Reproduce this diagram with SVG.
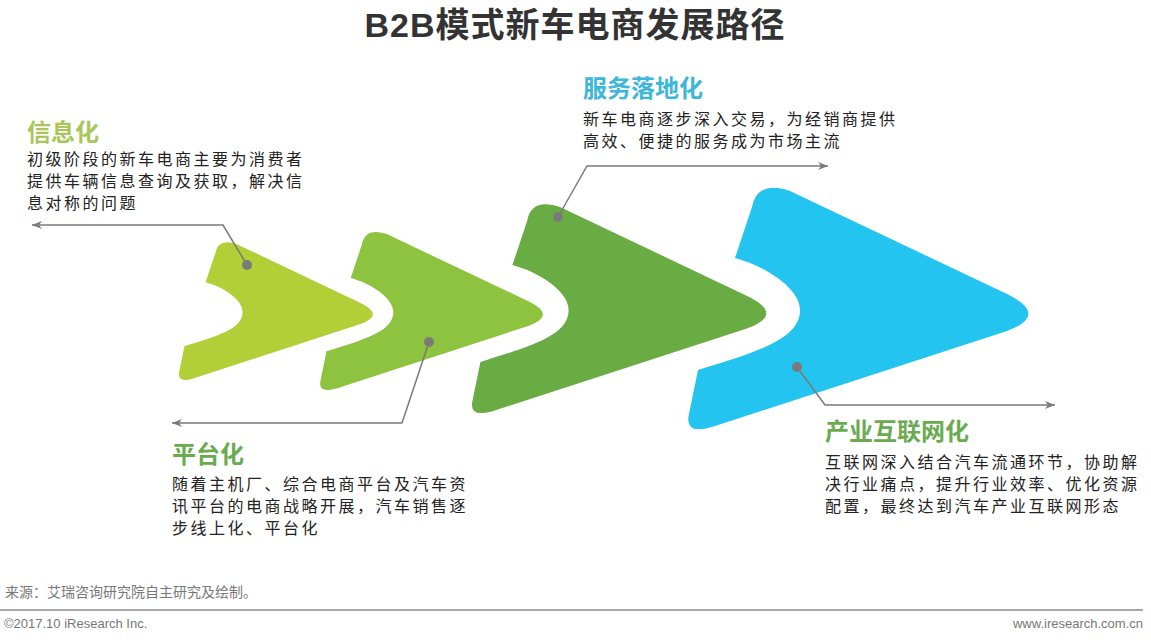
<svg xmlns="http://www.w3.org/2000/svg" width="1151" height="643" viewBox="0 0 1151 643">
  <style>
    .title{font-family:"Liberation Sans","Noto Sans CJK SC",sans-serif;font-weight:700;font-size:34px;fill:#333333;letter-spacing:1px}
    .head{font-family:"Noto Sans CJK SC",sans-serif;font-weight:700;font-size:24px}
    .body{font-family:"Noto Sans CJK SC",sans-serif;font-size:16px;fill:#222222;letter-spacing:2.5px}
    .foot{font-family:"Liberation Sans","Noto Sans CJK SC",sans-serif;font-size:13px;fill:#777777}
    .conn{fill:none;stroke:#7a7a7a;stroke-width:1.5}
    .dot{fill:#7a7a7a}
  </style>
  <defs>
    <path id="chev" d="M790,191 L1007,294 Q1050,315 1007,331 L712,427 Q684,435 689,414 L698,370 C755,352 800,340 800,310 C800,288 765,266 735,258 L752,207 Q757,180 790,191 Z"/>
    <marker id="arr" viewBox="0 0 10 10" refX="10" refY="5" markerWidth="10" markerHeight="10" markerUnits="userSpaceOnUse" orient="auto">
      <path d="M10,5 L0,1 L3,5 L0,9 Z" fill="#7a7a7a"/>
    </marker>
  </defs>

  <rect width="1151" height="643" fill="#ffffff"/>

  <text class="title" x="575" y="37" text-anchor="middle">B2B模式新车电商发展路径</text>

  <g id="stage1">
    <use href="#chev" fill="#b3cf37" transform="translate(372 312) scale(0.57) translate(-1027 -310)"/>
  </g>
  <g id="stage2">
    <use href="#chev" fill="#8dc33f" transform="translate(542 312) scale(0.655) translate(-1027 -310)"/>
  </g>
  <g id="stage3">
    <use href="#chev" fill="#69ac44" transform="translate(765 310) scale(0.865) translate(-1027 -310)"/>
  </g>
  <g id="stage4">
    <use href="#chev" fill="#23c4ef"/>
  </g>

  <g id="connectors">
    <polyline class="conn" points="247,265 223,225 32,225" marker-end="url(#arr)"/>
    <polyline class="conn" points="429,342 402,423 172,423" marker-end="url(#arr)"/>
    <polyline class="conn" points="558,217 587,166 828,166" marker-end="url(#arr)"/>
    <polyline class="conn" points="797,367 825,405 1055,405" marker-end="url(#arr)"/>
    <circle class="dot" cx="247" cy="265" r="5"/>
    <circle class="dot" cx="429" cy="342" r="5"/>
    <circle class="dot" cx="558" cy="217" r="5"/>
    <circle class="dot" cx="797" cy="367" r="5"/>
  </g>

  <g id="label1">
    <text class="head" x="27" y="141" fill="#a8c65a">信息化</text>
    <text class="body" x="27" y="165">初级阶段的新车电商主要为消费者</text>
    <text class="body" x="27" y="187">提供车辆信息查询及获取，解决信</text>
    <text class="body" x="27" y="209">息对称的问题</text>
  </g>
  <g id="label2">
    <text class="head" x="172" y="463" fill="#6aab4f">平台化</text>
    <text class="body" x="172" y="490">随着主机厂、综合电商平台及汽车资</text>
    <text class="body" x="172" y="512">讯平台的电商战略开展，汽车销售逐</text>
    <text class="body" x="172" y="534">步线上化、平台化</text>
  </g>
  <g id="label3">
    <text class="head" x="583" y="97" fill="#3db7d9">服务落地化</text>
    <text class="body" x="583" y="125">新车电商逐步深入交易，为经销商提供</text>
    <text class="body" x="583" y="147">高效、便捷的服务成为市场主流</text>
  </g>
  <g id="label4">
    <text class="head" x="825" y="440" fill="#6aab4f">产业互联网化</text>
    <text class="body" x="825" y="468">互联网深入结合汽车流通环节，协助解</text>
    <text class="body" x="825" y="490">决行业痛点，提升行业效率、优化资源</text>
    <text class="body" x="825" y="512">配置，最终达到汽车产业互联网形态</text>
  </g>

  <g id="footer">
    <text class="foot" x="5" y="597" style="font-size:14px">来源：艾瑞咨询研究院自主研究及绘制。</text>
    <line x1="0" y1="610" x2="1143" y2="610" stroke="#8a8a8a" stroke-width="1.5"/>
    <text class="foot" x="4" y="628">©2017.10 iResearch Inc.</text>
    <text class="foot" x="1143" y="628" text-anchor="end">www.iresearch.com.cn</text>
  </g>
</svg>
